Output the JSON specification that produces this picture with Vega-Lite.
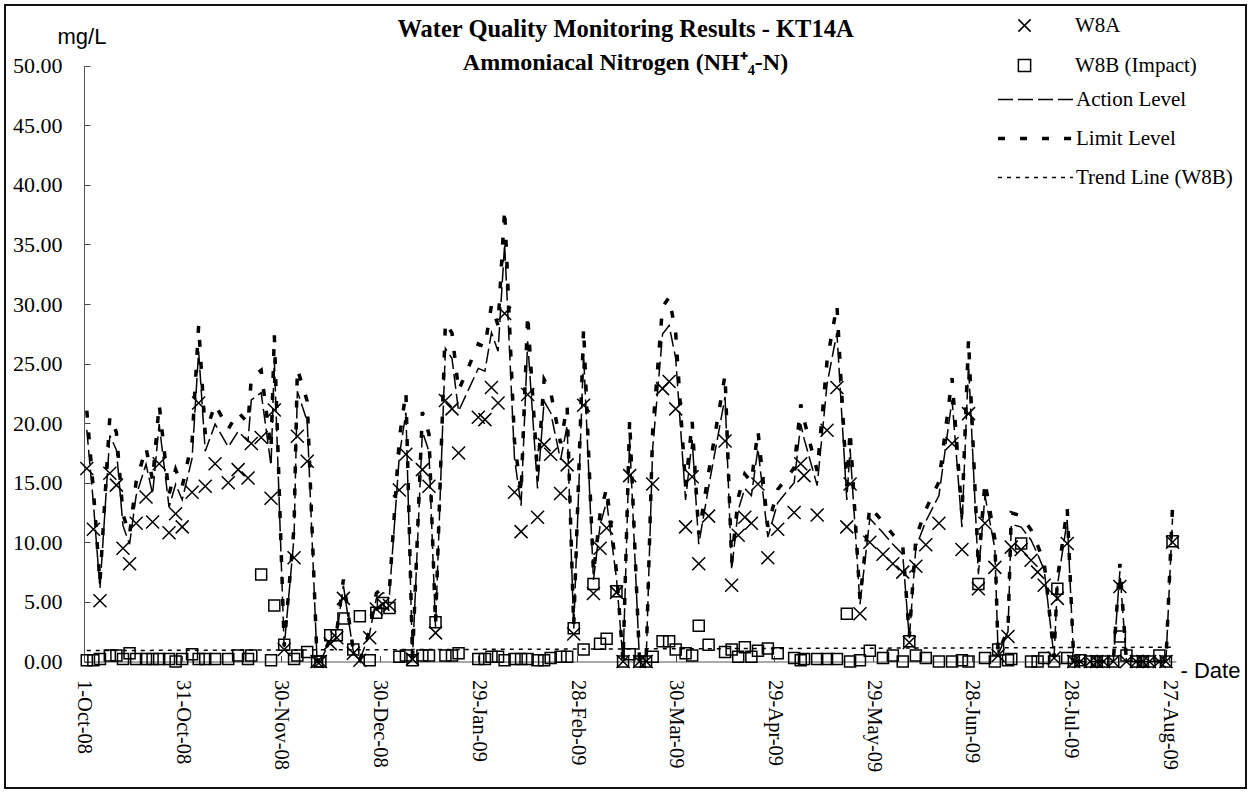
{
  "$schema": "https://vega.github.io/schema/vega-lite/v6.json",
  "width": 1241,
  "height": 783,
  "autosize": {"type": "none"},
  "padding": {"left": 5, "top": 5, "right": 4, "bottom": 4},
  "background": "white",
  "config": {
    "view": {"stroke": "#111", "strokeWidth": 2},
    "axis": {"grid": false},
    "legend": {"labelFont": "Liberation Serif", "labelFontSize": 21, "labelColor": "black"}
  },
  "title": {
    "text": "Water Quality Monitoring Results - KT14A",
    "subtitle": "Ammoniacal Nitrogen (NH⁺₄-N)",
    "font": "Liberation Serif",
    "fontSize": 24.5,
    "fontWeight": "bold",
    "color": "black",
    "subtitleFont": "Liberation Serif",
    "subtitleFontSize": 24,
    "subtitleFontWeight": "bold",
    "subtitleColor": "black",
    "subtitlePadding": 9,
    "anchor": "middle",
    "frame": "group",
    "offset": -71
  },
  "data": {
    "format": {"parse": {"date": "utc:'%Y-%m-%d'"}},
    "values": [
      {"date": "2008-10-02", "a": 16.2, "b": 0.1, "act": 19.44, "lim": 21.06},
      {"date": "2008-10-04", "a": 11.1, "b": 0.1, "act": 13.32, "lim": 14.43},
      {"date": "2008-10-06", "a": 5.1, "b": 0.2, "act": 6.12, "lim": 6.63},
      {"date": "2008-10-09", "a": 15.8, "b": 0.5, "act": 18.96, "lim": 20.54},
      {"date": "2008-10-11", "a": 14.8, "b": 0.5, "act": 17.76, "lim": 19.24},
      {"date": "2008-10-13", "a": 9.5, "b": 0.2, "act": 11.4, "lim": 12.35},
      {"date": "2008-10-15", "a": 8.2, "b": 0.7, "act": 9.84, "lim": 10.66},
      {"date": "2008-10-17", "a": 11.6, "b": 0.2, "act": 13.92, "lim": 15.08},
      {"date": "2008-10-20", "a": 13.8, "b": 0.2, "act": 16.56, "lim": 17.94},
      {"date": "2008-10-22", "a": 11.7, "b": 0.2, "act": 14.04, "lim": 15.21},
      {"date": "2008-10-24", "a": 16.6, "b": 0.2, "act": 19.92, "lim": 21.58},
      {"date": "2008-10-27", "a": 10.8, "b": 0.2, "act": 12.96, "lim": 14.04},
      {"date": "2008-10-29", "a": 12.4, "b": 0.0, "act": 14.88, "lim": 16.12},
      {"date": "2008-10-31", "a": 11.3, "b": 0.2, "act": 13.56, "lim": 14.69},
      {"date": "2008-11-03", "a": 14.2, "b": 0.6, "act": 17.04, "lim": 18.46},
      {"date": "2008-11-05", "a": 21.7, "b": 0.2, "act": 26.04, "lim": 28.21},
      {"date": "2008-11-07", "a": 14.7, "b": 0.2, "act": 17.64, "lim": 19.11},
      {"date": "2008-11-10", "a": 16.6, "b": 0.2, "act": 19.92, "lim": 21.58},
      {"date": "2008-11-14", "a": 15.0, "b": 0.2, "act": 18.0, "lim": 19.5},
      {"date": "2008-11-17", "a": 16.1, "b": 0.5, "act": 19.32, "lim": 20.93},
      {"date": "2008-11-20", "a": 15.4, "b": 0.2, "act": 18.48, "lim": 20.02},
      {"date": "2008-11-21", "a": 18.3, "b": 0.5, "act": 21.96, "lim": 23.79},
      {"date": "2008-11-24", "a": 18.8, "b": 7.3, "act": 22.56, "lim": 24.44},
      {"date": "2008-11-27", "a": 13.7, "b": 0.1, "act": 16.44, "lim": 17.81},
      {"date": "2008-11-28", "a": 21.1, "b": 4.7, "act": 25.32, "lim": 27.43},
      {"date": "2008-12-01", "a": 1.0, "b": 1.4, "act": 1.2, "lim": 1.3},
      {"date": "2008-12-04", "a": 8.7, "b": 0.2, "act": 10.44, "lim": 11.31},
      {"date": "2008-12-05", "a": 18.9, "b": 0.5, "act": 22.68, "lim": 24.57},
      {"date": "2008-12-08", "a": 16.8, "b": 0.8, "act": 20.16, "lim": 21.84},
      {"date": "2008-12-11", "a": 0.0, "b": 0.0, "act": 0.0, "lim": 0.0},
      {"date": "2008-12-12", "a": 0.0, "b": 0.0, "act": 0.0, "lim": 0.0},
      {"date": "2008-12-15", "a": 1.5, "b": 2.2, "act": 1.8, "lim": 1.95},
      {"date": "2008-12-17", "a": 2.0, "b": 2.2, "act": 2.4, "lim": 2.6},
      {"date": "2008-12-19", "a": 5.3, "b": 3.6, "act": 6.36, "lim": 6.89},
      {"date": "2008-12-22", "a": 0.7, "b": 1.0, "act": 0.84, "lim": 0.91},
      {"date": "2008-12-24", "a": 0.1, "b": 3.8, "act": 0.12, "lim": 0.13},
      {"date": "2008-12-27", "a": 2.0, "b": 0.1, "act": 2.4, "lim": 2.6},
      {"date": "2008-12-29", "a": 4.4, "b": 4.1, "act": 5.28, "lim": 5.72},
      {"date": "2008-12-31", "a": 4.8, "b": 4.9, "act": 5.76, "lim": 6.24},
      {"date": "2009-01-02", "a": 4.7, "b": 4.5, "act": 5.64, "lim": 6.11},
      {"date": "2009-01-05", "a": 14.4, "b": 0.4, "act": 17.28, "lim": 18.72},
      {"date": "2009-01-07", "a": 17.4, "b": 0.5, "act": 20.88, "lim": 22.62},
      {"date": "2009-01-09", "a": 0.2, "b": 0.1, "act": 0.24, "lim": 0.26},
      {"date": "2009-01-12", "a": 16.1, "b": 0.5, "act": 19.32, "lim": 20.93},
      {"date": "2009-01-14", "a": 14.7, "b": 0.5, "act": 17.64, "lim": 19.11},
      {"date": "2009-01-16", "a": 2.4, "b": 3.3, "act": 2.88, "lim": 3.12},
      {"date": "2009-01-19", "a": 21.9, "b": 0.5, "act": 26.28, "lim": 28.47},
      {"date": "2009-01-21", "a": 21.2, "b": 0.5, "act": 25.44, "lim": 27.56},
      {"date": "2009-01-23", "a": 17.5, "b": 0.7, "act": 21.0, "lim": 22.75},
      {"date": "2009-01-29", "a": 20.5, "b": 0.2, "act": 24.6, "lim": 26.65},
      {"date": "2009-01-31", "a": 20.3, "b": 0.2, "act": 24.36, "lim": 26.39},
      {"date": "2009-02-02", "a": 23.0, "b": 0.4, "act": 27.6, "lim": 29.9},
      {"date": "2009-02-04", "a": 21.7, "b": 0.4, "act": 26.04, "lim": 28.21},
      {"date": "2009-02-06", "a": 29.2, "b": 0.1, "act": 35.04, "lim": 37.96},
      {"date": "2009-02-09", "a": 14.2, "b": 0.2, "act": 17.04, "lim": 18.46},
      {"date": "2009-02-11", "a": 10.9, "b": 0.2, "act": 13.08, "lim": 14.17},
      {"date": "2009-02-13", "a": 22.4, "b": 0.2, "act": 26.88, "lim": 29.12},
      {"date": "2009-02-16", "a": 12.1, "b": 0.1, "act": 14.52, "lim": 15.73},
      {"date": "2009-02-18", "a": 18.2, "b": 0.1, "act": 21.84, "lim": 23.66},
      {"date": "2009-02-20", "a": 17.4, "b": 0.3, "act": 20.88, "lim": 22.62},
      {"date": "2009-02-23", "a": 14.1, "b": 0.4, "act": 16.92, "lim": 18.33},
      {"date": "2009-02-25", "a": 16.5, "b": 0.4, "act": 19.8, "lim": 21.45},
      {"date": "2009-02-27", "a": 2.3, "b": 2.8, "act": 2.76, "lim": 2.99},
      {"date": "2009-03-02", "a": 21.5, "b": 1.0, "act": 25.8, "lim": 27.95},
      {"date": "2009-03-05", "a": 5.7, "b": 6.5, "act": 6.84, "lim": 7.41},
      {"date": "2009-03-07", "a": 9.5, "b": 1.5, "act": 11.4, "lim": 12.35},
      {"date": "2009-03-09", "a": 11.2, "b": 1.9, "act": 13.44, "lim": 14.56},
      {"date": "2009-03-12", "a": 5.8, "b": 5.9, "act": 6.96, "lim": 7.54},
      {"date": "2009-03-14", "a": 0.0, "b": 0.0, "act": 0.0, "lim": 0.0},
      {"date": "2009-03-16", "a": 15.6, "b": 0.6, "act": 18.72, "lim": 20.28},
      {"date": "2009-03-19", "a": 0.0, "b": 0.0, "act": 0.0, "lim": 0.0},
      {"date": "2009-03-21", "a": 0.0, "b": 0.0, "act": 0.0, "lim": 0.0},
      {"date": "2009-03-23", "a": 14.9, "b": 0.4, "act": 17.88, "lim": 19.37},
      {"date": "2009-03-26", "a": 22.9, "b": 1.7, "act": 27.48, "lim": 29.77},
      {"date": "2009-03-28", "a": 23.5, "b": 1.7, "act": 28.2, "lim": 30.55},
      {"date": "2009-03-30", "a": 21.2, "b": 1.0, "act": 25.44, "lim": 27.56},
      {"date": "2009-04-02", "a": 11.3, "b": 0.7, "act": 13.56, "lim": 14.69},
      {"date": "2009-04-04", "a": 15.5, "b": 0.5, "act": 18.6, "lim": 20.15},
      {"date": "2009-04-06", "a": 8.2, "b": 3.0, "act": 9.84, "lim": 10.66},
      {"date": "2009-04-09", "a": 12.2, "b": 1.4, "act": 14.64, "lim": 15.86},
      {"date": "2009-04-14", "a": 18.5, "b": 0.8, "act": 22.2, "lim": 24.05},
      {"date": "2009-04-16", "a": 6.4, "b": 1.0, "act": 7.68, "lim": 8.32},
      {"date": "2009-04-18", "a": 10.6, "b": 0.4, "act": 12.72, "lim": 13.78},
      {"date": "2009-04-20", "a": 12.1, "b": 1.2, "act": 14.52, "lim": 15.73},
      {"date": "2009-04-22", "a": 11.6, "b": 0.4, "act": 13.92, "lim": 15.08},
      {"date": "2009-04-24", "a": 14.9, "b": 0.9, "act": 17.88, "lim": 19.37},
      {"date": "2009-04-27", "a": 8.7, "b": 1.1, "act": 10.44, "lim": 11.31},
      {"date": "2009-04-30", "a": 11.1, "b": 0.7, "act": 13.32, "lim": 14.43},
      {"date": "2009-05-05", "a": 12.5, "b": 0.3, "act": 15.0, "lim": 16.25},
      {"date": "2009-05-07", "a": 16.6, "b": 0.1, "act": 19.92, "lim": 21.58},
      {"date": "2009-05-08", "a": 15.6, "b": 0.2, "act": 18.72, "lim": 20.28},
      {"date": "2009-05-12", "a": 12.3, "b": 0.2, "act": 14.76, "lim": 15.99},
      {"date": "2009-05-15", "a": 19.4, "b": 0.2, "act": 23.28, "lim": 25.22},
      {"date": "2009-05-18", "a": 23.0, "b": 0.2, "act": 27.6, "lim": 29.9},
      {"date": "2009-05-21", "a": 11.3, "b": 4.0, "act": 13.56, "lim": 14.69},
      {"date": "2009-05-22", "a": 14.9, "b": 0.0, "act": 17.88, "lim": 19.37},
      {"date": "2009-05-25", "a": 4.0, "b": 0.1, "act": 4.8, "lim": 5.2},
      {"date": "2009-05-28", "a": 10.0, "b": 0.9, "act": 12.0, "lim": 13.0},
      {"date": "2009-06-01", "a": 9.0, "b": 0.3, "act": 10.8, "lim": 11.7},
      {"date": "2009-06-04", "a": 8.2, "b": 0.5, "act": 9.84, "lim": 10.66},
      {"date": "2009-06-07", "a": 7.5, "b": 0.0, "act": 9.0, "lim": 9.75},
      {"date": "2009-06-09", "a": 1.6, "b": 1.7, "act": 1.92, "lim": 2.08},
      {"date": "2009-06-11", "a": 8.0, "b": 0.5, "act": 9.6, "lim": 10.4},
      {"date": "2009-06-14", "a": 9.8, "b": 0.3, "act": 11.76, "lim": 12.74},
      {"date": "2009-06-18", "a": 11.6, "b": 0.0, "act": 13.92, "lim": 15.08},
      {"date": "2009-06-22", "a": 18.3, "b": 0.0, "act": 21.96, "lim": 23.79},
      {"date": "2009-06-25", "a": 9.4, "b": 0.1, "act": 11.28, "lim": 12.22},
      {"date": "2009-06-27", "a": 20.8, "b": 0.0, "act": 24.96, "lim": 27.04},
      {"date": "2009-06-30", "a": 6.1, "b": 6.5, "act": 7.32, "lim": 7.93},
      {"date": "2009-07-02", "a": 11.6, "b": 0.3, "act": 13.92, "lim": 15.08},
      {"date": "2009-07-05", "a": 7.9, "b": 0.0, "act": 9.48, "lim": 10.27},
      {"date": "2009-07-06", "a": 0.5, "b": 1.0, "act": 0.6, "lim": 0.65},
      {"date": "2009-07-09", "a": 2.1, "b": 0.1, "act": 2.52, "lim": 2.73},
      {"date": "2009-07-10", "a": 9.6, "b": 0.2, "act": 11.52, "lim": 12.48},
      {"date": "2009-07-13", "a": 9.4, "b": 9.9, "act": 11.28, "lim": 12.22},
      {"date": "2009-07-16", "a": 8.5, "b": 0.0, "act": 10.2, "lim": 11.05},
      {"date": "2009-07-18", "a": 7.5, "b": 0.0, "act": 9.0, "lim": 9.75},
      {"date": "2009-07-20", "a": 6.4, "b": 0.3, "act": 7.68, "lim": 8.32},
      {"date": "2009-07-23", "a": 0.3, "b": 0.0, "act": 0.36, "lim": 0.39},
      {"date": "2009-07-24", "a": 5.3, "b": 6.1, "act": 6.36, "lim": 6.89},
      {"date": "2009-07-27", "a": 9.9, "b": 0.3, "act": 11.88, "lim": 12.87},
      {"date": "2009-07-29", "a": 0.0, "b": 0.0, "act": 0.0, "lim": 0.0},
      {"date": "2009-07-31", "a": 0.0, "b": 0.1, "act": 0.0, "lim": 0.0},
      {"date": "2009-08-03", "a": 0.0, "b": 0.0, "act": 0.0, "lim": 0.0},
      {"date": "2009-08-05", "a": 0.0, "b": 0.0, "act": 0.0, "lim": 0.0},
      {"date": "2009-08-07", "a": 0.0, "b": 0.0, "act": 0.0, "lim": 0.0},
      {"date": "2009-08-10", "a": 0.0, "b": 0.0, "act": 0.0, "lim": 0.0},
      {"date": "2009-08-12", "a": 6.3, "b": 2.1, "act": 7.56, "lim": 8.19},
      {"date": "2009-08-14", "a": 0.0, "b": 0.5, "act": 0.0, "lim": 0.0},
      {"date": "2009-08-17", "a": 0.0, "b": 0.0, "act": 0.0, "lim": 0.0},
      {"date": "2009-08-19", "a": 0.0, "b": 0.0, "act": 0.0, "lim": 0.0},
      {"date": "2009-08-21", "a": 0.0, "b": 0.0, "act": 0.0, "lim": 0.0},
      {"date": "2009-08-24", "a": 0.0, "b": 0.5, "act": 0.0, "lim": 0.0},
      {"date": "2009-08-26", "a": 0.0, "b": 0.0, "act": 0.0, "lim": 0.0},
      {"date": "2009-08-28", "a": 10.0, "b": 10.1, "act": 12.0, "lim": 13.0}
    ]
  },
  "encoding": {
    "x": {
      "field": "date",
      "type": "temporal",
      "scale": {
        "type": "utc",
        "domain": [
          {"year": 2008, "month": 10, "date": 1, "utc": true},
          {"year": 2009, "month": 8, "date": 29, "utc": true}
        ],
        "range": [78.5, 1170.8],
        "nice": false
      },
      "axis": {
        "values": [
          {"year": 2008, "month": 10, "date": 1, "utc": true},
          {"year": 2008, "month": 10, "date": 31, "utc": true},
          {"year": 2008, "month": 11, "date": 30, "utc": true},
          {"year": 2008, "month": 12, "date": 30, "utc": true},
          {"year": 2009, "month": 1, "date": 29, "utc": true},
          {"year": 2009, "month": 2, "date": 28, "utc": true},
          {"year": 2009, "month": 3, "date": 30, "utc": true},
          {"year": 2009, "month": 4, "date": 29, "utc": true},
          {"year": 2009, "month": 5, "date": 29, "utc": true},
          {"year": 2009, "month": 6, "date": 28, "utc": true},
          {"year": 2009, "month": 7, "date": 28, "utc": true},
          {"year": 2009, "month": 8, "date": 27, "utc": true}
        ],
        "labelExpr": "utcFormat(datum.value, '%-d-%b-%y')",
        "labelAngle": 90,
        "labelAlign": "left",
        "labelBaseline": "middle",
        "labelFont": "Liberation Serif",
        "labelFontSize": 20.5,
        "labelColor": "black",
        "labelPadding": 24,
        "labelOverlap": false,
        "labelFlush": false,
        "tickSize": -6,
        "tickColor": "#444",
        "domainColor": "#555",
        "offset": -126.5,
        "title": "- Date",
        "titleFont": "Liberation Sans",
        "titleFontSize": 22,
        "titleFontWeight": "normal",
        "titleColor": "black",
        "titleAngle": 0,
        "titleAlign": "left",
        "titleBaseline": "alphabetic",
        "titleX": 1175,
        "titleY": 16
      }
    }
  },
  "layer": [
    {
      "mark": {"type": "line", "color": "black", "strokeWidth": 1.5},
      "encoding": {
        "y": {
          "field": "act",
          "type": "quantitative",
          "scale": {"domain": [0, 50], "range": [656.5, 60.7], "nice": false, "zero": false},
          "axis": {
            "values": [0, 5, 10, 15, 20, 25, 30, 35, 40, 45, 50],
            "format": ".2f",
            "labelFont": "Liberation Serif",
            "labelFontSize": 22,
            "labelColor": "black",
            "labelPadding": 28,
            "tickSize": -6,
            "tickColor": "#444",
            "domainColor": "#555",
            "offset": -79,
            "title": "mg/L",
            "titleFont": "Liberation Sans",
            "titleFontSize": 22,
            "titleFontWeight": "normal",
            "titleColor": "black",
            "titleAngle": 0,
            "titleAlign": "center",
            "titleBaseline": "alphabetic",
            "titleX": -2.5,
            "titleY": 38.5
          }
        },
        "strokeDash": {
          "datum": "Action Level",
          "scale": {
            "domain": ["Action Level", "Limit Level", "Trend Line (W8B)"],
            "range": [[15, 5], [7, 15], [4, 5]]
          },
          "legend": {
            "title": null,
            "orient": "none",
            "legendX": 1020,
            "legendY": 84,
            "padding": 0,
            "symbolType": "M-6,0H6",
            "symbolSize": 156,
            "symbolStrokeColor": "black",
            "symbolStrokeWidth": 1.5,
            "labelOffset": 30,
            "rowPadding": 17,
            "encode": {
              "symbols": {
                "update": {
                  "strokeWidth": {"signal": "datum.value === 'Limit Level' ? 3.5 : 1.5"}
                }
              }
            }
          }
        }
      }
    },
    {
      "mark": {"type": "line", "color": "black", "strokeWidth": 3.5},
      "encoding": {
        "y": {"field": "lim", "type": "quantitative"},
        "strokeDash": {"datum": "Limit Level"}
      }
    },
    {
      "transform": [{"regression": "b", "on": "date"}],
      "mark": {"type": "line", "color": "black", "strokeWidth": 1.5},
      "encoding": {
        "y": {"field": "b", "type": "quantitative"},
        "strokeDash": {"datum": "Trend Line (W8B)"}
      }
    },
    {
      "mark": {"type": "point", "filled": false, "color": "black", "strokeWidth": 1.5, "size": 169, "opacity": 1},
      "encoding": {
        "y": {"field": "a", "type": "quantitative"},
        "shape": {
          "datum": "W8A",
          "scale": {
            "domain": ["W8A", "W8B (Impact)"],
            "range": ["M-1,-1L1,1M1,-1L-1,1", "square"]
          },
          "legend": {
            "title": null,
            "orient": "none",
            "legendX": 1009,
            "legendY": 10,
            "padding": 0,
            "symbolSize": 150,
            "symbolStrokeColor": "black",
            "symbolFillColor": "transparent",
            "symbolStrokeWidth": 1.5,
            "labelOffset": 40,
            "rowPadding": 18
          }
        }
      }
    },
    {
      "mark": {"type": "point", "filled": false, "color": "black", "strokeWidth": 1.5, "size": 121, "opacity": 1},
      "encoding": {
        "y": {"field": "b", "type": "quantitative"},
        "shape": {"datum": "W8B (Impact)"}
      }
    }
  ]
}
